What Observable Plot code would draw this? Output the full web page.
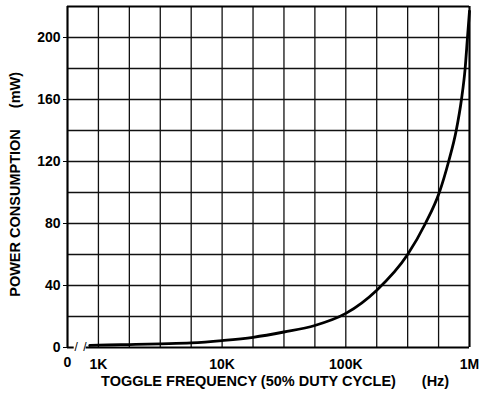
<!DOCTYPE html>
<html><head><meta charset="utf-8">
<script src="https://cdn.jsdelivr.net/npm/d3@7"></script>
<script src="https://cdn.jsdelivr.net/npm/@observablehq/plot@0.6"></script>
<style>html,body{margin:0;padding:0;background:#fff}</style>
</head><body><div id="chart"></div>
<script>
// Curve: toggle frequency (Hz) vs power consumption (mW)
const freqHz  = [850, 1000, 2000, 3160, 5620, 10000, 17800, 31600, 56200, 100000, 178000, 316000, 440000, 570000, 678000, 781000, 861000, 922000, 963000, 1000000];
const powerMW = [1.3, 1.5,  2.0,  2.4,  3.0,  4.5,   6.6,   10,    14.2,  22,     37,     60,     80,     100,    120,    140,    160,    180,    200,    217];

// Grid (chart paper: four lines per decade) and ticks
const xGrid = [562.34, 1000, 1778.3, 3162.3, 5623.4, 10000, 17783, 31623, 56234, 100000, 177828, 316228, 562341, 1000000];
const xTicks = [1000, 10000, 100000, 1000000];
const xTickLabels = ["1K", "10K", "100K", "1M"];
const xZeroLabel = "0";
const yGrid = [0, 20, 40, 60, 80, 100, 120, 140, 160, 180, 200, 220];
const yTicks = [0, 40, 80, 120, 160, 200];

// Axis break between 0 and 1K on the baseline
const baselineSegments = [[562.34, 637], [796, 1000000]];
const breakSlashes = [661, 777];

const xTitle = "TOGGLE FREQUENCY (50% DUTY CYCLE)";
const xUnit = "(Hz)";
const yTitle = "POWER CONSUMPTION";
const yUnit = "(mW)";

const data = freqHz.map((f, i) => ({f, p: powerMW[i]}));
const labelOf = new Map(xTicks.map((t, i) => [t, xTickLabels[i]]));
const titleOpts = {fontSize: 14.5, textAnchor: "middle", lineAnchor: "middle", text: d => d};

const chart = Plot.plot({
  width: 479, height: 394,
  marginLeft: 67, marginRight: 10, marginTop: 6, marginBottom: 47,
  style: {fontFamily: "'Liberation Sans', Arial, sans-serif", fontWeight: "bold", fontSize: "14px", background: "#fff", color: "#000"},
  x: {type: "log", domain: [xGrid[0], xGrid[xGrid.length - 1]], ticks: xTicks, tickFormat: d => labelOf.get(d), tickSize: 0, tickPadding: 12, label: null},
  y: {domain: [yGrid[0], yGrid[yGrid.length - 1]], ticks: yTicks, tickSize: 4, tickPadding: 3, label: null},
  marks: [
    Plot.ruleX(xGrid, {y1: 0, y2: 220, stroke: "#111", strokeWidth: 1.3}),
    Plot.ruleY(yGrid.slice(1, -1), {stroke: "#111", strokeWidth: 1.3}),
    Plot.ruleX([xGrid[0], xGrid[xGrid.length - 1]], {y1: 0, y2: 220, stroke: "#000", strokeWidth: 2}),
    Plot.ruleY([220], {stroke: "#000", strokeWidth: 2}),
    Plot.ruleY(baselineSegments, {x1: d => d[0], x2: d => d[1], y: 0, stroke: "#000", strokeWidth: 2}),
    Plot.text(breakSlashes, {x: d => d, y: 0, text: () => "/", fontSize: 12, fontWeight: "normal"}),
    Plot.line(data, {x: "f", y: "p", curve: "monotone-x", stroke: "#000", strokeWidth: 2.8}),
    Plot.text([xZeroLabel], {frameAnchor: "bottom-left", dy: 15, textAnchor: "middle", lineAnchor: "middle", text: d => d, fontSize: 14}),
    Plot.text([xTitle], {frameAnchor: "bottom", dx: -20, dy: 34, ...titleOpts}),
    Plot.text([xUnit], {frameAnchor: "bottom", dx: 167, dy: 34, ...titleOpts}),
    Plot.text([yTitle], {frameAnchor: "left", dx: -52, dy: 36, rotate: -90, ...titleOpts}),
    Plot.text([yUnit], {frameAnchor: "left", dx: -52, dy: -87, rotate: -90, ...titleOpts})
  ]
});
document.getElementById("chart").appendChild(chart);
</script>
</body></html>
